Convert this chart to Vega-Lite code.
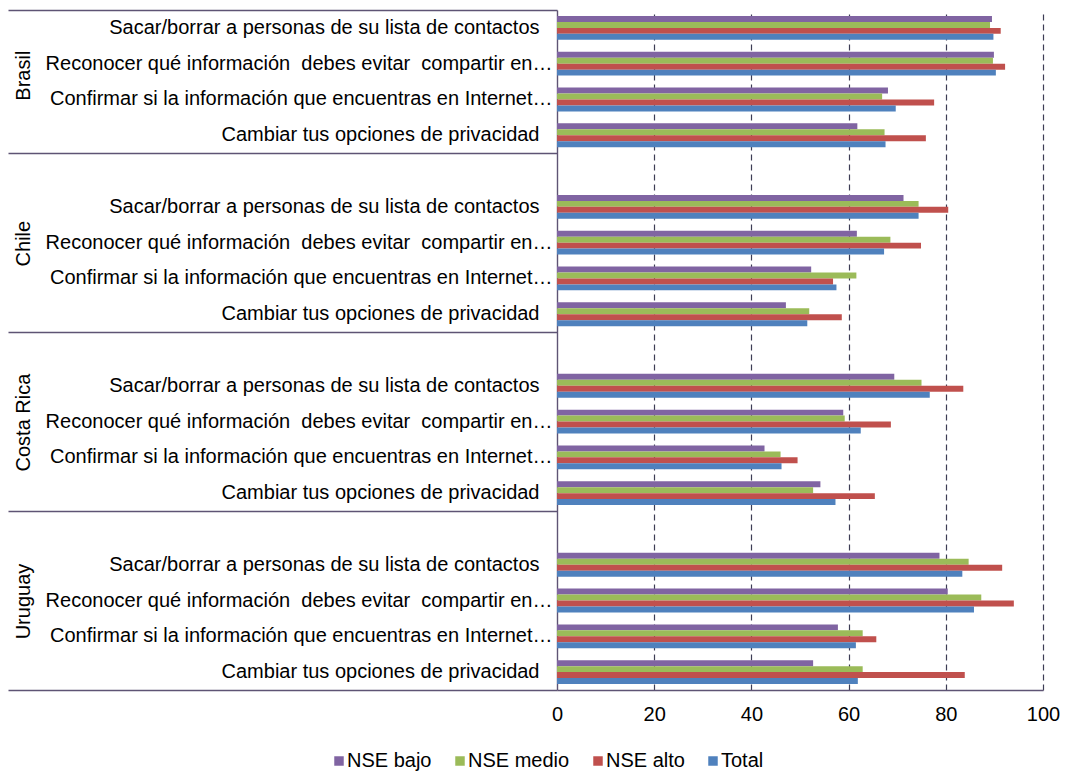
{
  "$schema": "https://vega.github.io/schema/vega-lite/v6.json",
  "autosize": {"type": "none"},
  "width": 486,
  "height": 680,
  "padding": {"left": 557, "top": 10, "right": 22, "bottom": 82},
  "background": "white",
  "config": {
    "view": {"stroke": null},
    "font": "Liberation Sans",
    "axis": {"labelFont": "Liberation Sans", "labelColor": "#000000", "labelFontSize": 20}
  },
  "data": {
    "values": [
      {"pais": "Brasil", "item": "Sacar/borrar a personas de su lista de contactos", "serie": "NSE bajo", "valor": 89.5},
      {"pais": "Brasil", "item": "Sacar/borrar a personas de su lista de contactos", "serie": "NSE medio", "valor": 89.1},
      {"pais": "Brasil", "item": "Sacar/borrar a personas de su lista de contactos", "serie": "NSE alto", "valor": 91.3},
      {"pais": "Brasil", "item": "Sacar/borrar a personas de su lista de contactos", "serie": "Total", "valor": 89.8},
      {"pais": "Brasil", "item": "Reconocer qué información  debes evitar  compartir en…", "serie": "NSE bajo", "valor": 89.9},
      {"pais": "Brasil", "item": "Reconocer qué información  debes evitar  compartir en…", "serie": "NSE medio", "valor": 89.7},
      {"pais": "Brasil", "item": "Reconocer qué información  debes evitar  compartir en…", "serie": "NSE alto", "valor": 92.2},
      {"pais": "Brasil", "item": "Reconocer qué información  debes evitar  compartir en…", "serie": "Total", "valor": 90.3},
      {"pais": "Brasil", "item": "Confirmar si la información que encuentras en Internet…", "serie": "NSE bajo", "valor": 68.1},
      {"pais": "Brasil", "item": "Confirmar si la información que encuentras en Internet…", "serie": "NSE medio", "valor": 66.9},
      {"pais": "Brasil", "item": "Confirmar si la información que encuentras en Internet…", "serie": "NSE alto", "valor": 77.6},
      {"pais": "Brasil", "item": "Confirmar si la información que encuentras en Internet…", "serie": "Total", "valor": 69.7},
      {"pais": "Brasil", "item": "Cambiar tus opciones de privacidad", "serie": "NSE bajo", "valor": 61.8},
      {"pais": "Brasil", "item": "Cambiar tus opciones de privacidad", "serie": "NSE medio", "valor": 67.4},
      {"pais": "Brasil", "item": "Cambiar tus opciones de privacidad", "serie": "NSE alto", "valor": 75.9},
      {"pais": "Brasil", "item": "Cambiar tus opciones de privacidad", "serie": "Total", "valor": 67.6},
      {"pais": "Chile", "item": "Sacar/borrar a personas de su lista de contactos", "serie": "NSE bajo", "valor": 71.3},
      {"pais": "Chile", "item": "Sacar/borrar a personas de su lista de contactos", "serie": "NSE medio", "valor": 74.4},
      {"pais": "Chile", "item": "Sacar/borrar a personas de su lista de contactos", "serie": "NSE alto", "valor": 80.5},
      {"pais": "Chile", "item": "Sacar/borrar a personas de su lista de contactos", "serie": "Total", "valor": 74.4},
      {"pais": "Chile", "item": "Reconocer qué información  debes evitar  compartir en…", "serie": "NSE bajo", "valor": 61.7},
      {"pais": "Chile", "item": "Reconocer qué información  debes evitar  compartir en…", "serie": "NSE medio", "valor": 68.6},
      {"pais": "Chile", "item": "Reconocer qué información  debes evitar  compartir en…", "serie": "NSE alto", "valor": 74.9},
      {"pais": "Chile", "item": "Reconocer qué información  debes evitar  compartir en…", "serie": "Total", "valor": 67.3},
      {"pais": "Chile", "item": "Confirmar si la información que encuentras en Internet…", "serie": "NSE bajo", "valor": 52.3},
      {"pais": "Chile", "item": "Confirmar si la información que encuentras en Internet…", "serie": "NSE medio", "valor": 61.6},
      {"pais": "Chile", "item": "Confirmar si la información que encuentras en Internet…", "serie": "NSE alto", "valor": 56.8},
      {"pais": "Chile", "item": "Confirmar si la información que encuentras en Internet…", "serie": "Total", "valor": 57.5},
      {"pais": "Chile", "item": "Cambiar tus opciones de privacidad", "serie": "NSE bajo", "valor": 47.1},
      {"pais": "Chile", "item": "Cambiar tus opciones de privacidad", "serie": "NSE medio", "valor": 51.9},
      {"pais": "Chile", "item": "Cambiar tus opciones de privacidad", "serie": "NSE alto", "valor": 58.6},
      {"pais": "Chile", "item": "Cambiar tus opciones de privacidad", "serie": "Total", "valor": 51.5},
      {"pais": "Costa Rica", "item": "Sacar/borrar a personas de su lista de contactos", "serie": "NSE bajo", "valor": 69.4},
      {"pais": "Costa Rica", "item": "Sacar/borrar a personas de su lista de contactos", "serie": "NSE medio", "valor": 75.0},
      {"pais": "Costa Rica", "item": "Sacar/borrar a personas de su lista de contactos", "serie": "NSE alto", "valor": 83.6},
      {"pais": "Costa Rica", "item": "Sacar/borrar a personas de su lista de contactos", "serie": "Total", "valor": 76.7},
      {"pais": "Costa Rica", "item": "Reconocer qué información  debes evitar  compartir en…", "serie": "NSE bajo", "valor": 58.9},
      {"pais": "Costa Rica", "item": "Reconocer qué información  debes evitar  compartir en…", "serie": "NSE medio", "valor": 59.2},
      {"pais": "Costa Rica", "item": "Reconocer qué información  debes evitar  compartir en…", "serie": "NSE alto", "valor": 68.7},
      {"pais": "Costa Rica", "item": "Reconocer qué información  debes evitar  compartir en…", "serie": "Total", "valor": 62.5},
      {"pais": "Costa Rica", "item": "Confirmar si la información que encuentras en Internet…", "serie": "NSE bajo", "valor": 42.7},
      {"pais": "Costa Rica", "item": "Confirmar si la información que encuentras en Internet…", "serie": "NSE medio", "valor": 46.0},
      {"pais": "Costa Rica", "item": "Confirmar si la información que encuentras en Internet…", "serie": "NSE alto", "valor": 49.5},
      {"pais": "Costa Rica", "item": "Confirmar si la información que encuentras en Internet…", "serie": "Total", "valor": 46.2},
      {"pais": "Costa Rica", "item": "Cambiar tus opciones de privacidad", "serie": "NSE bajo", "valor": 54.2},
      {"pais": "Costa Rica", "item": "Cambiar tus opciones de privacidad", "serie": "NSE medio", "valor": 52.7},
      {"pais": "Costa Rica", "item": "Cambiar tus opciones de privacidad", "serie": "NSE alto", "valor": 65.4},
      {"pais": "Costa Rica", "item": "Cambiar tus opciones de privacidad", "serie": "Total", "valor": 57.3},
      {"pais": "Uruguay", "item": "Sacar/borrar a personas de su lista de contactos", "serie": "NSE bajo", "valor": 78.7},
      {"pais": "Uruguay", "item": "Sacar/borrar a personas de su lista de contactos", "serie": "NSE medio", "valor": 84.7},
      {"pais": "Uruguay", "item": "Sacar/borrar a personas de su lista de contactos", "serie": "NSE alto", "valor": 91.6},
      {"pais": "Uruguay", "item": "Sacar/borrar a personas de su lista de contactos", "serie": "Total", "valor": 83.4},
      {"pais": "Uruguay", "item": "Reconocer qué información  debes evitar  compartir en…", "serie": "NSE bajo", "valor": 80.4},
      {"pais": "Uruguay", "item": "Reconocer qué información  debes evitar  compartir en…", "serie": "NSE medio", "valor": 87.3},
      {"pais": "Uruguay", "item": "Reconocer qué información  debes evitar  compartir en…", "serie": "NSE alto", "valor": 94.0},
      {"pais": "Uruguay", "item": "Reconocer qué información  debes evitar  compartir en…", "serie": "Total", "valor": 85.8},
      {"pais": "Uruguay", "item": "Confirmar si la información que encuentras en Internet…", "serie": "NSE bajo", "valor": 57.8},
      {"pais": "Uruguay", "item": "Confirmar si la información que encuentras en Internet…", "serie": "NSE medio", "valor": 62.9},
      {"pais": "Uruguay", "item": "Confirmar si la información que encuentras en Internet…", "serie": "NSE alto", "valor": 65.7},
      {"pais": "Uruguay", "item": "Confirmar si la información que encuentras en Internet…", "serie": "Total", "valor": 61.5},
      {"pais": "Uruguay", "item": "Cambiar tus opciones de privacidad", "serie": "NSE bajo", "valor": 52.7},
      {"pais": "Uruguay", "item": "Cambiar tus opciones de privacidad", "serie": "NSE medio", "valor": 62.9},
      {"pais": "Uruguay", "item": "Cambiar tus opciones de privacidad", "serie": "NSE alto", "valor": 83.9},
      {"pais": "Uruguay", "item": "Cambiar tus opciones de privacidad", "serie": "Total", "valor": 61.9}
    ]
  },
  "transform": [{"calculate": "datum.pais + '|' + datum.item", "as": "clave"}],
  "resolve": {"axis": {"y": "independent"}},
  "layer": [
    {
      "mark": {"type": "bar"},
      "encoding": {
        "x": {
          "field": "valor", "type": "quantitative",
          "scale": {"domain": [0, 100], "nice": false},
          "axis": {
            "orient": "bottom", "title": null, "values": [0, 20, 40, 60, 80, 100],
            "grid": true, "gridDash": [6, 4], "gridColor": "#3d3d55", "gridWidth": 1.2,
            "gridOpacity": {"condition": {"test": "datum.value == 0", "value": 0}, "value": 1},
            "ticks": false, "domain": true, "domainColor": "#5e5474", "domainWidth": 1.4,
            "labelPadding": 14, "labelFontSize": 20, "labelFlush": false
          }
        },
        "y": {
          "field": "clave", "type": "nominal",
          "scale": {
            "domain": [
              "Brasil|Sacar/borrar a personas de su lista de contactos",
              "Brasil|Reconocer qué información  debes evitar  compartir en…",
              "Brasil|Confirmar si la información que encuentras en Internet…",
              "Brasil|Cambiar tus opciones de privacidad",
              "Chile|",
              "Chile|Sacar/borrar a personas de su lista de contactos",
              "Chile|Reconocer qué información  debes evitar  compartir en…",
              "Chile|Confirmar si la información que encuentras en Internet…",
              "Chile|Cambiar tus opciones de privacidad",
              "Costa Rica|",
              "Costa Rica|Sacar/borrar a personas de su lista de contactos",
              "Costa Rica|Reconocer qué información  debes evitar  compartir en…",
              "Costa Rica|Confirmar si la información que encuentras en Internet…",
              "Costa Rica|Cambiar tus opciones de privacidad",
              "Uruguay|",
              "Uruguay|Sacar/borrar a personas de su lista de contactos",
              "Uruguay|Reconocer qué información  debes evitar  compartir en…",
              "Uruguay|Confirmar si la información que encuentras en Internet…",
              "Uruguay|Cambiar tus opciones de privacidad"
            ],
            "paddingInner": 0, "paddingOuter": 0
          },
          "axis": {
            "orient": "left", "title": null, "ticks": false, "grid": false,
            "domain": true, "domainColor": "#5e5474", "domainWidth": 1.4,
            "labelExpr": "replace(split(datum.value, '|')[1], regexp('  ', 'g'), '\u00a0 ')",
            "labelPadding": {"condition": {"test": "indexof(datum.value, '…') >= 0", "value": 5}, "value": 18},
            "labelLimit": 700, "labelAlign": "right", "labelBaseline": "middle",
            "labelFontSize": 20
          }
        },
        "yOffset": {
          "field": "serie", "type": "nominal",
          "sort": ["NSE bajo", "NSE medio", "NSE alto", "Total"],
          "scale": {"paddingInner": 0, "paddingOuter": 1}
        },
        "color": {
          "field": "serie", "type": "nominal",
          "sort": ["NSE bajo", "NSE medio", "NSE alto", "Total"],
          "scale": {
            "domain": ["NSE bajo", "NSE medio", "NSE alto", "Total"],
            "range": ["#8064A2", "#9BBB59", "#C0504D", "#4F81BD"]
          },
          "legend": {
            "orient": "none", "direction": "horizontal", "legendX": -228, "legendY": 741,
            "title": null, "symbolType": "square", "symbolSize": 90, "symbolStrokeWidth": 0,
            "labelFontSize": 20, "labelFont": "Liberation Sans", "labelColor": "#000000",
            "labelOffset": -2, "columnPadding": 18, "padding": 0
          }
        }
      }
    },
    {
      "mark": {"type": "point", "opacity": 0},
      "encoding": {
        "y": {
          "field": "clave", "type": "nominal",
          "axis": {
            "orient": "left", "title": null, "labels": false, "domain": false, "grid": false,
            "ticks": true, "tickSize": 549, "tickColor": "#5e5474", "tickWidth": 1.4, "bandPosition": 0,
            "values": ["Brasil|Sacar/borrar a personas de su lista de contactos", "Chile|", "Costa Rica|", "Uruguay|"]
          }
        }
      }
    },
    {
      "mark": {"type": "point", "opacity": 0},
      "encoding": {
        "y": {
          "field": "clave", "type": "nominal",
          "axis": {
            "orient": "left", "title": null, "labels": false, "domain": false, "grid": false,
            "ticks": true, "tickSize": 549, "tickColor": "#5e5474", "tickWidth": 1.4, "bandPosition": 1,
            "values": ["Uruguay|Cambiar tus opciones de privacidad"]
          }
        }
      }
    },
    {
      "mark": {"type": "point", "opacity": 0},
      "encoding": {
        "y": {
          "field": "clave", "type": "nominal",
          "axis": {
            "orient": "left", "title": null, "domain": false, "grid": false, "ticks": false,
            "values": [
              "Brasil|Reconocer qué información  debes evitar  compartir en…",
              "Chile|Reconocer qué información  debes evitar  compartir en…",
              "Costa Rica|Reconocer qué información  debes evitar  compartir en…",
              "Uruguay|Reconocer qué información  debes evitar  compartir en…"
            ],
            "labelExpr": "split(datum.value, '|')[0]",
            "labelAngle": 270, "labelAlign": "center", "labelBaseline": "middle",
            "labelPadding": 534, "labelFontSize": 20,
            "labelOffset": {"condition": {"test": "indexof(datum.value, 'Brasil') == 0", "value": 12}, "value": 1}
          }
        }
      }
    }
  ]
}
